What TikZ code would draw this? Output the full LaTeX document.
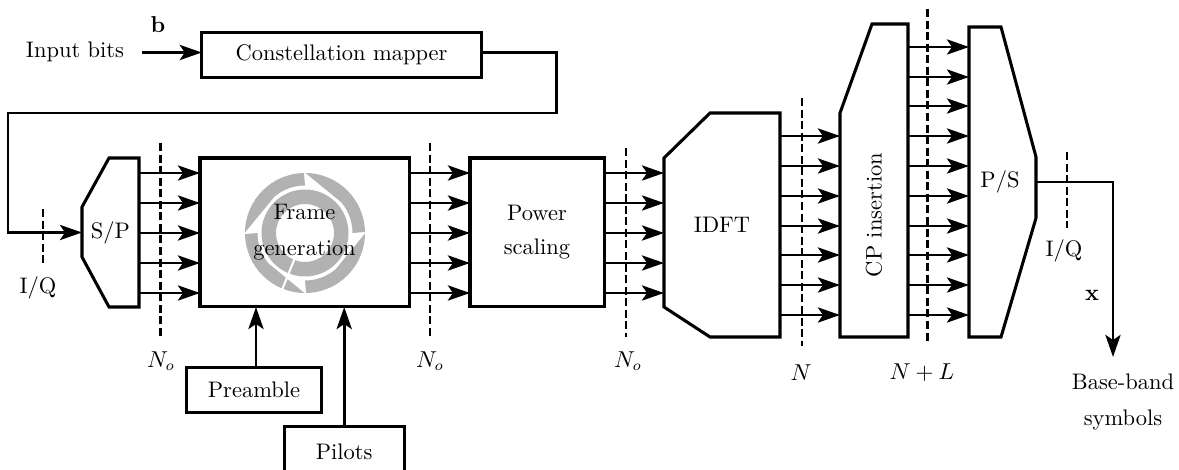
\documentclass[tikz,border=0pt]{standalone}
\usetikzlibrary{arrows.meta,positioning}
\definecolor{cyclegray}{gray}{0.7}
\tikzset{
  wire/.style={line width=1.4pt},
  feed/.style={wire,-{Stealth[length=10.5pt,width=7.2pt,inset=2.4pt]}},
  block/.style={draw,line width=1.45pt,outer sep=0pt,inner sep=0pt,align=center},
  slab/.style={outer sep=0pt,inner sep=0pt},
  bus/.style={line width=1.4pt,dash pattern=on 3.8pt off 1.7pt},
  caption/.style={inner sep=0pt,align=center}
}

\begin{document}
\begin{tikzpicture}[x=0.476pt,y=-0.476pt,every node/.append style={font=\fontsize{10.7}{12.8}\selectfont}]
  \useasboundingbox (0,0) rectangle (1179,470);

  % cycle behind the frame text
  \begin{scope}[shift={(305,233)},yscale=-1]
    \fill[cyclegray,even odd rule] (0,0) circle (43.5) (0,0) circle (29);
    \foreach \rot in {0,-90,-180,90} {
      \fill[cyclegray,rotate=\rot] (179.5:60) arc (179.5:91:60) -- (90:47.5) arc (90:130:47.5) -- cycle;
    }
    \draw[white,line width=1pt] (248:27) -- (248:62);
  \end{scope}

  % rectangular blocks
  \node[block,minimum width=133pt,minimum height=21.2pt] (mapper) at (341.5,55) {Constellation mapper};
  \node[block,minimum width=99.5pt,minimum height=70.9pt] (frame) at (304.5,232.5) {Frame\\[4.2pt]generation};
  \node[block,minimum width=63.8pt,minimum height=70.9pt] (power) at (537,232.5) {Power\\[3.4pt]scaling};
  \node[block,minimum width=64.5pt,minimum height=21pt] (preamble) at (254,390) {Preamble};
  \node[block,minimum width=57pt,minimum height=24pt] (pilots) at (344.2,452) {Pilots};

  % slanted blocks
  \node[slab,minimum width=27.1pt,minimum height=70.9pt] (sp) at (110.5,232.5) {S/P};
  \node[slab,minimum width=55.2pt,minimum height=106.6pt] (idft) at (722,225) {IDFT};
  \node[slab,minimum width=32.4pt,minimum height=149pt] (cp) at (874,180.5) {};
  \node[slab,minimum width=31.9pt,minimum height=147.6pt] (ps) at (1002.5,182) {};
  \node[caption,rotate=90] (cptext) at (874,215) {CP insertion};
  \node[caption] (pstext) at (1000,182) {P/S};
  \draw[block] (109,158) -- (139,158) -- (139,307) -- (109,307) -- (82,257) -- (82,207) -- cycle;
  \draw[block] (710,113) -- (780,113) -- (780,337) -- (710,337) -- (664,307) -- (664,158) -- cycle;
  \draw[block] (872,24) -- (908,24) -- (908,337) -- (840,337) -- (840,113) -- cycle;
  \draw[block] (969,27) -- (1001,27) -- (1036,157) -- (1036,218) -- (1001,337) -- (969,337) -- cycle;

  % texts
  \node[caption] (input) at (75,52) {Input bits};
  \node[caption] (bitslabel) at (158,25) {$\mathbf{b}$};
  \node[caption] (iqin) at (38,288) {I/Q};
  \node[caption] (iqout) at (1064,251) {I/Q};
  \node[caption] (symlabel) at (1092,295) {$\mathbf{x}$};
  \node[caption] (baseband) at (1123,402) {Base-band\\[4.2pt]symbols};
  \node[caption] (noa) at (161,361) {$N_o$};
  \node[caption] (nob) at (430,361) {$N_o$};
  \node[caption] (noc) at (628,361) {$N_o$};
  \node[caption] (nsize) at (801,373) {$N$};
  \node[caption] (nlsize) at (922,373) {$N+L$};

  % serial connections
  \coordinate (bitsin) at (142,52.5);
  \coordinate (turnr) at (556.5,113);
  \coordinate (turnl) at (8,113);
  \coordinate (out) at (1113,357);
  \draw[feed] (bitsin) -- (mapper.west |- bitsin);
  \draw[feed] (mapper.east |- bitsin) -| (turnr) -- (turnl) |- (sp.west);
  \draw[feed] (ps.east) -| (out);
  \draw[feed] (preamble.north -| 256,0) -- (frame.south -| 256,0);
  \draw[feed] (pilots.north) -- (frame.south -| pilots.north);

  % parallel connections
  \foreach \y in {173,203,233,263,293} {
    \draw[feed] (sp.east |- 0,\y) -- (frame.west |- 0,\y);
    \draw[feed] (frame.east |- 0,\y) -- (power.west |- 0,\y);
    \draw[feed] (power.east |- 0,\y) -- (idft.west |- 0,\y);
  }
  \foreach \y in {136,166,196,226,255,285,315} {
    \draw[feed] (idft.east |- 0,\y) -- (cp.west |- 0,\y);
  }
  \foreach \y in {47,77,106,136,166,196,226,255,285,315} {
    \draw[feed] (cp.east |- 0,\y) -- (ps.west |- 0,\y);
  }

  % bus markers
  \foreach \x/\ya/\yb in {43/209/265,160.5/143/337,430/143/337,626/148/337,802/98/346,927.5/9/343,1067/152/228} {
    \draw[bus] (\x,\ya) -- (\x,\yb);
  }
\end{tikzpicture}
\end{document}
